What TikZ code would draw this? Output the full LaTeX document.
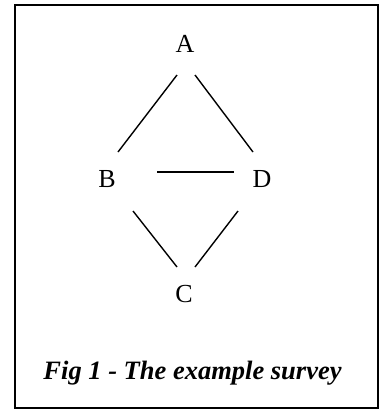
\documentclass[tikz,border=0pt]{standalone}
\usepackage{fontspec}
\setmainfont{Liberation Serif}
\tikzset{
  letter/.style={inner sep=0pt, font=\fontsize{26}{30}\selectfont},
  edge/.style={line width=1.4pt}
}
\begin{document}
\begin{tikzpicture}[x=1pt,y=-1pt]
        \useasboundingbox (0,0) rectangle (382,410);
        \draw[line width=2pt] (15,5) rectangle (378,408);
        \node[letter] (A) at (185,44)  {A};
        \node[letter] (B) at (107,179) {B};
        \node[letter] (D) at (262,179) {D};
        \node[letter] (C) at (184,294) {C};
        \node[font=\fontsize{26.5}{30}\selectfont\bfseries\itshape] (cap) at (192.5,373) {Fig 1 - The example survey};
        \draw[edge] ([shift={(-8,31)}]A.center)  -- ([shift={(11,-27)}]B.center);
        \draw[edge] ([shift={(10,31)}]A.center)  -- ([shift={(-9,-27)}]D.center);
        \draw[edge] ([shift={(50,-7)}]B.center)  -- ([shift={(-28,-7)}]D.center);
        \draw[edge] ([shift={(26,32)}]B.center)  -- ([shift={(-7,-27)}]C.center);
        \draw[edge] ([shift={(-24,32)}]D.center) -- ([shift={(11,-27)}]C.center);
    \end{tikzpicture}
\end{document}
